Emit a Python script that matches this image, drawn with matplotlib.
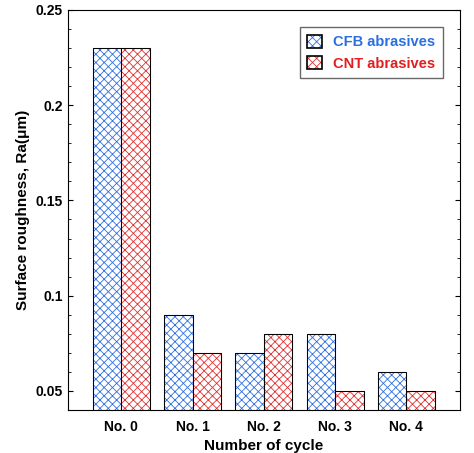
import matplotlib.pyplot as plt
import numpy as np

plt.rcParams['font.family'] = ['Liberation Sans', 'DejaVu Sans']
plt.rcParams['hatch.linewidth'] = 0.6

cycles = ['No. 0', 'No. 1', 'No. 2', 'No. 3', 'No. 4']
cfb = [0.23, 0.09, 0.07, 0.08, 0.06]
cnt = [0.23, 0.07, 0.08, 0.05, 0.05]

blue = (0.19, 0.44, 0.88, 1)
red = (0.88, 0.19, 0.19, 1)

fig = plt.figure(figsize=(4.74, 4.53), dpi=100)
ax = fig.add_axes([0.143, 0.095, 0.827, 0.883])

x = np.arange(len(cycles))
w = 0.4
ax.bar(x - w/2, cfb, w, color='white', edgecolor=blue, hatch='xxxx', linewidth=0.8, label='CFB abrasives')
ax.bar(x + w/2, cnt, w, color='white', edgecolor=red, hatch='xxxx', linewidth=0.8, label='CNT abrasives')
bars = list(ax.patches)
for p in bars:
    ax.add_patch(plt.Rectangle(p.get_xy(), p.get_width(), p.get_height(), fill=False, edgecolor='black', linewidth=0.7))

ax.set_ylim(0.04, 0.25)
ax.set_xlim(-0.75, 4.75)
ax.set_yticks([0.05, 0.1, 0.15, 0.2, 0.25])
ax.set_yticklabels(['0.05', '0.1', '0.15', '0.2', '0.25'])
ax.set_xticks(x)
ax.set_xticklabels(cycles, fontweight='bold', fontsize=10)
for t in ax.get_yticklabels():
    t.set_fontweight('bold')
    t.set_fontsize(10)
ax.yaxis.set_minor_locator(plt.MultipleLocator(0.01))
ax.tick_params(direction='in', which='both', right=True)
ax.tick_params(axis='x', length=0, pad=7)
ax.set_xlabel('Number of cycle', fontweight='bold', fontsize=11, labelpad=4)
ax.set_ylabel('Surface roughness, Ra(μm)', fontweight='bold', fontsize=11)

leg = ax.legend(loc='upper right', fontsize=10.5, frameon=True, fancybox=False, edgecolor='#444444',
                handlelength=1.0, handleheight=1.0, borderpad=0.5, bbox_to_anchor=(0.975, 0.975))
leg.get_frame().set_linewidth(1.0)
leg.texts[0].set_color('#2a6fe0')
leg.texts[1].set_color('#e02020')
for t in leg.texts:
    t.set_fontweight('bold')
for h, c in zip(leg.legend_handles, [blue, red]):
    h.set_edgecolor('black')
    h._hatch_color = c
    h.set_linewidth(1.2)

fig.savefig('out.png')
